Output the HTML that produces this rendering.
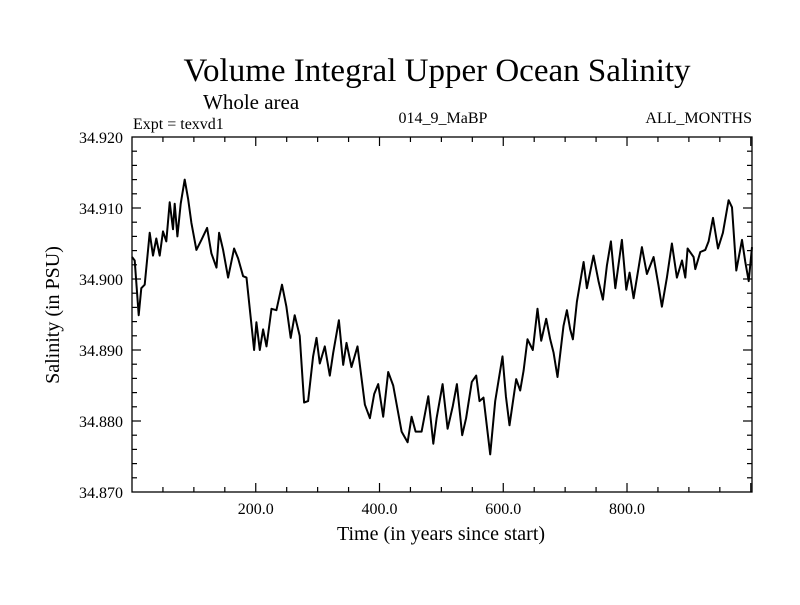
<!DOCTYPE html>
<html><head><meta charset="utf-8"><style>
body{margin:0;background:#fff;}
svg text{font-family:"Liberation Serif",serif;fill:#000;}
</style></head><body>
<svg id="chart" width="800" height="600" xmlns="http://www.w3.org/2000/svg">
<rect width="800" height="600" fill="#fff"/>
<text x="437" y="81" font-size="33" text-anchor="middle">Volume Integral Upper Ocean Salinity</text>
<text x="203" y="109" font-size="21">Whole area</text>
<text x="133" y="129" font-size="16">Expt = texvd1</text>
<text x="443" y="123" font-size="16" text-anchor="middle">014_9_MaBP</text>
<text x="752" y="123" font-size="16" text-anchor="end">ALL_MONTHS</text>
<text x="441" y="540" font-size="20" text-anchor="middle">Time (in years since start)</text>
<text transform="translate(59,315) rotate(-90)" font-size="20" text-anchor="middle">Salinity (in PSU)</text>
<g id="axes"></g>
<g id="series"></g>
</svg>
<script>
const years=[0,4.3,10.8,15.1,20.5,28.6,33.9,39.3,44.7,50.1,55.5,60.9,66.3,69,73.3,78.7,85.2,90.6,96,104.1,112.2,121.4,128.4,136.5,140.7,147.2,155.3,165,171.5,179.6,185,197.3,201.1,206.5,211.9,217.3,225.4,233.4,242.5,249.5,256.5,263,271.1,278.1,284.6,292.7,298.1,303.5,311.6,319.7,325.1,334.3,341.3,346.7,354.8,364.5,376.4,384.4,391.5,397.9,406,414.1,422.2,435.7,445.4,451.9,458.4,468.1,478.8,486.9,492.3,502,510.1,518.5,525,533.6,540,549.2,556.2,561.6,568.1,578.9,586.9,598.8,604.2,610.1,620.9,627.4,632.8,639.2,647.8,655.4,661.3,669.4,675.9,681.3,687.7,697.4,702.8,708.2,712.5,719,729.8,735.2,745.9,754,761,767.5,774,781,791.8,798.8,804.2,810.6,818.7,824.1,832.2,843,851,856.4,864.5,872.6,880.7,888.8,894.2,897.9,907.6,910.3,918.4,926.5,931.9,938.9,947,955,964.2,969.6,976.6,985.8,991.2,996.6,1002];
const salinity=[34.9031,34.9026,34.8949,34.8987,34.8992,34.9065,34.9033,34.9057,34.9033,34.9067,34.9053,34.9108,34.907,34.9106,34.906,34.9106,34.914,34.9113,34.9079,34.9041,34.9055,34.9072,34.9036,34.9016,34.9065,34.9041,34.9002,34.9043,34.9029,34.9004,34.9002,34.89,34.8939,34.89,34.8929,34.8905,34.8958,34.8956,34.8992,34.8961,34.8917,34.8949,34.892,34.8826,34.8828,34.8891,34.8917,34.8881,34.8905,34.8864,34.8896,34.8942,34.8879,34.891,34.8876,34.8905,34.8823,34.8804,34.8838,34.8852,34.8806,34.8869,34.885,34.8785,34.877,34.8806,34.8785,34.8785,34.8835,34.8768,34.8804,34.8852,34.8789,34.8821,34.8852,34.878,34.8804,34.8855,34.8864,34.8828,34.8833,34.8753,34.8828,34.8891,34.8835,34.8794,34.8859,34.8843,34.8871,34.8915,34.89,34.8958,34.8913,34.8944,34.8915,34.8896,34.8862,34.8934,34.8956,34.8929,34.8915,34.8968,34.9024,34.8987,34.9033,34.8997,34.8971,34.9019,34.9053,34.8987,34.9055,34.8985,34.9009,34.8973,34.9016,34.9045,34.9007,34.9031,34.899,34.8961,34.9002,34.905,34.9002,34.9026,34.9002,34.9043,34.9031,34.9014,34.9038,34.9041,34.9053,34.9086,34.9043,34.9065,34.9111,34.9101,34.9012,34.9055,34.9024,34.8997,34.9045];
const xTickLabels=["200.0","400.0","600.0","800.0"];
const xTickValues=[200,400,600,800];
const yTickValues=[34.870,34.880,34.890,34.900,34.910,34.920];
const yTickLabels=["34.870","34.880","34.890","34.900","34.910","34.920"];

const L=132,R=752,T=137,B=492,XMIN=0,XMAX=1002,YMIN=34.870,YMAX=34.920;
const NS="http://www.w3.org/2000/svg";
function sx(v){return L+(v-XMIN)/(XMAX-XMIN)*(R-L);}
function sy(v){return B-(v-YMIN)/(YMAX-YMIN)*(B-T);}
function mk(tag,attrs,parent){const e=document.createElementNS(NS,tag);for(const k in attrs)e.setAttribute(k,attrs[k]);parent.appendChild(e);return e;}
const axes=document.getElementById('axes');
const frame=mk('rect',{x:L,y:T,width:R-L,height:B-T,fill:'none',stroke:'#000','stroke-width':1.3},axes);


// x ticks (minor every 50)
for(let v=50;v<XMAX;v+=50){
  const major=v%200===0, len=major?9:5, x=sx(v);
  const t1=mk('line',{x1:x,y1:B,x2:x,y2:B-len,stroke:'#000','stroke-width':1.2},axes);
  
  
  const t2=mk('line',{x1:x,y1:T,x2:x,y2:T+len,stroke:'#000','stroke-width':1.2},axes);
  
  
}
xTickValues.forEach((v,i)=>{
  const t=mk('text',{x:sx(v),y:B+22,'font-size':16,'text-anchor':'middle'},axes);
  t.textContent=xTickLabels[i];
  
  
});
// y ticks (minor every 0.002)
for(let k=1;k<25;k++){
  const v=YMIN+k*0.002, major=k%5===0, len=major?9:5, y=sy(v);
  const t1=mk('line',{x1:L,y1:y,x2:L+len,y2:y,stroke:'#000','stroke-width':1.2},axes);
  
  
  const t2=mk('line',{x1:R,y1:y,x2:R-len,y2:y,stroke:'#000','stroke-width':1.2},axes);
  
  
}
yTickValues.forEach((v,i)=>{
  const t=mk('text',{x:L-9,y:sy(v)+6,'font-size':16,'text-anchor':'end'},axes);
  t.textContent=yTickLabels[i];
  
  
});
const series=document.getElementById('series');
const d=years.map((yr,i)=>(i?'L':'M')+sx(yr).toFixed(1)+','+sy(salinity[i]).toFixed(1)).join('');
const line=mk('path',{d:d,fill:'none',stroke:'#000','stroke-width':2,'stroke-linejoin':'round'},series);


</script>
</body></html>
